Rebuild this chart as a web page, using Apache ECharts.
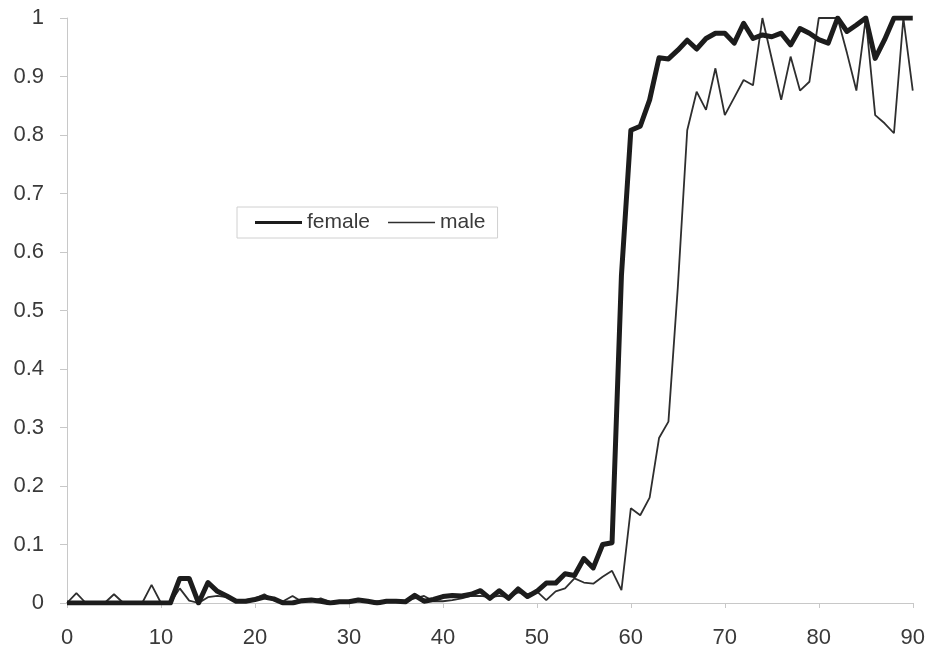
<!DOCTYPE html>
<html>
<head>
<meta charset="utf-8">
<script src="https://cdn.jsdelivr.net/npm/echarts@6/dist/echarts.min.js"></script>
<style>
html,body{margin:0;padding:0;background:#fff;}
#c{width:928px;height:654px;}
</style>
</head>
<body>
<div id="c"></div>
<script>
var ages = [0,1,2,3,4,5,6,7,8,9,10,11,12,13,14,15,16,17,18,19,20,21,22,23,24,25,26,27,28,29,30,
  31,32,33,34,35,36,37,38,39,40,41,42,43,44,45,46,47,48,49,50,51,52,53,54,55,56,57,58,59,60,
  61,62,63,64,65,66,67,68,69,70,71,72,73,74,75,76,77,78,79,80,81,82,83,84,85,86,87,88,89,90];

var female = [0,0,0,0,0,0,0,0,0,0,0,0,
  0.042,0.042,0.0,0.035,0.02,0.012,0.003,0.003,0.006,0.01,0.007,0.0,0.0,0.004,0.005,0.003,0.0,0.002,
  0.002,0.005,0.003,0.0,0.003,0.003,0.002,0.013,0.003,0.006,
  0.011,0.013,0.012,0.015,0.021,0.008,0.021,0.008,0.024,0.011,
  0.02,0.034,0.034,0.05,0.047,0.076,0.06,0.1,0.103,0.56,
  0.808,0.815,0.86,0.932,0.93,0.945,0.962,0.947,0.965,0.974,
  0.974,0.957,0.991,0.965,0.971,0.968,0.974,0.954,0.982,0.974,
  0.963,0.957,1.0,0.977,0.988,1.0,0.931,0.963,1.0,1.0,1.0];

var male = [0,0.017,0,0,0,0.015,0,0,0,0.031,0,0,
  0.025,0.004,0.0,0.01,0.012,0.01,0.003,0.005,0.008,0.015,0.005,0.003,0.012,0.002,0.003,0.008,0.002,0.002,
  0.003,0.004,0.002,0.003,0.002,0.003,0.004,0.008,0.012,0.003,
  0.003,0.005,0.008,0.012,0.012,0.01,0.012,0.01,0.018,0.015,
  0.02,0.005,0.02,0.025,0.042,0.035,0.033,0.045,0.055,0.022,
  0.162,0.15,0.18,0.282,0.31,0.54,0.808,0.874,0.843,0.914,
  0.834,0.864,0.894,0.885,1.0,0.93,0.86,0.934,0.876,0.891,
  1.0,1.0,1.0,0.94,0.876,1.0,0.834,0.82,0.803,1.0,0.876];

var seriesNames = ['female','male'];

var chart = echarts.init(document.getElementById('c'), null, {renderer:'canvas'});
var textColor = '#3a3a3a';
var axisGray = '#c8c8c8';
chart.setOption({
  backgroundColor:'#ffffff',
  animation:false,
  grid:{left:67,right:15,top:18,bottom:51,containLabel:false},
  legend:{
    data:[
      {name:'female', icon:'path://M0,0H0.05V0.05H0Z M0,5.6H47V8.4H0Z M0,13.95H0.05V14H0Z'},
      {name:'male', icon:'path://M0,0H0.05V0.05H0Z M0,6.3H47V7.7H0Z M0,13.95H0.05V14H0Z'}
    ],
    left:237, top:207,
    orient:'horizontal',
    padding:[5,12,5,18],
    itemWidth:47, itemHeight:14, itemGap:18,
    borderColor:'#d0d0d0', borderWidth:1,
    backgroundColor:'#ffffff',
    textStyle:{fontFamily:'Liberation Sans', fontSize:21, color:textColor}
  },
  xAxis:{
    type:'category',
    data:ages,
    boundaryGap:false,
    axisLine:{lineStyle:{color:axisGray,width:1}},
    axisTick:{show:true,alignWithLabel:true,interval:9,length:5,lineStyle:{color:axisGray}},
    axisLabel:{interval:9,margin:24,fontFamily:'Liberation Sans',fontSize:22,color:textColor},
    splitLine:{show:false}
  },
  yAxis:{
    type:'value',
    min:0,max:1,interval:0.1,
    axisLine:{show:true,lineStyle:{color:axisGray,width:1}},
    axisTick:{show:true,length:7,lineStyle:{color:axisGray}},
    axisLabel:{margin:23,fontFamily:'Liberation Sans',fontSize:22,color:textColor},
    splitLine:{show:false}
  },
  series:[
    {name:'female',type:'line',data:female,symbol:'none',
      lineStyle:{color:'#1c1c1c',width:5,join:'round'},itemStyle:{color:'#1c1c1c'},z:3},
    {name:'male',type:'line',data:male,symbol:'none',
      lineStyle:{color:'#2e2e2e',width:1.8},itemStyle:{color:'#2e2e2e'},z:2}
  ]
});
</script>
</body>
</html>
